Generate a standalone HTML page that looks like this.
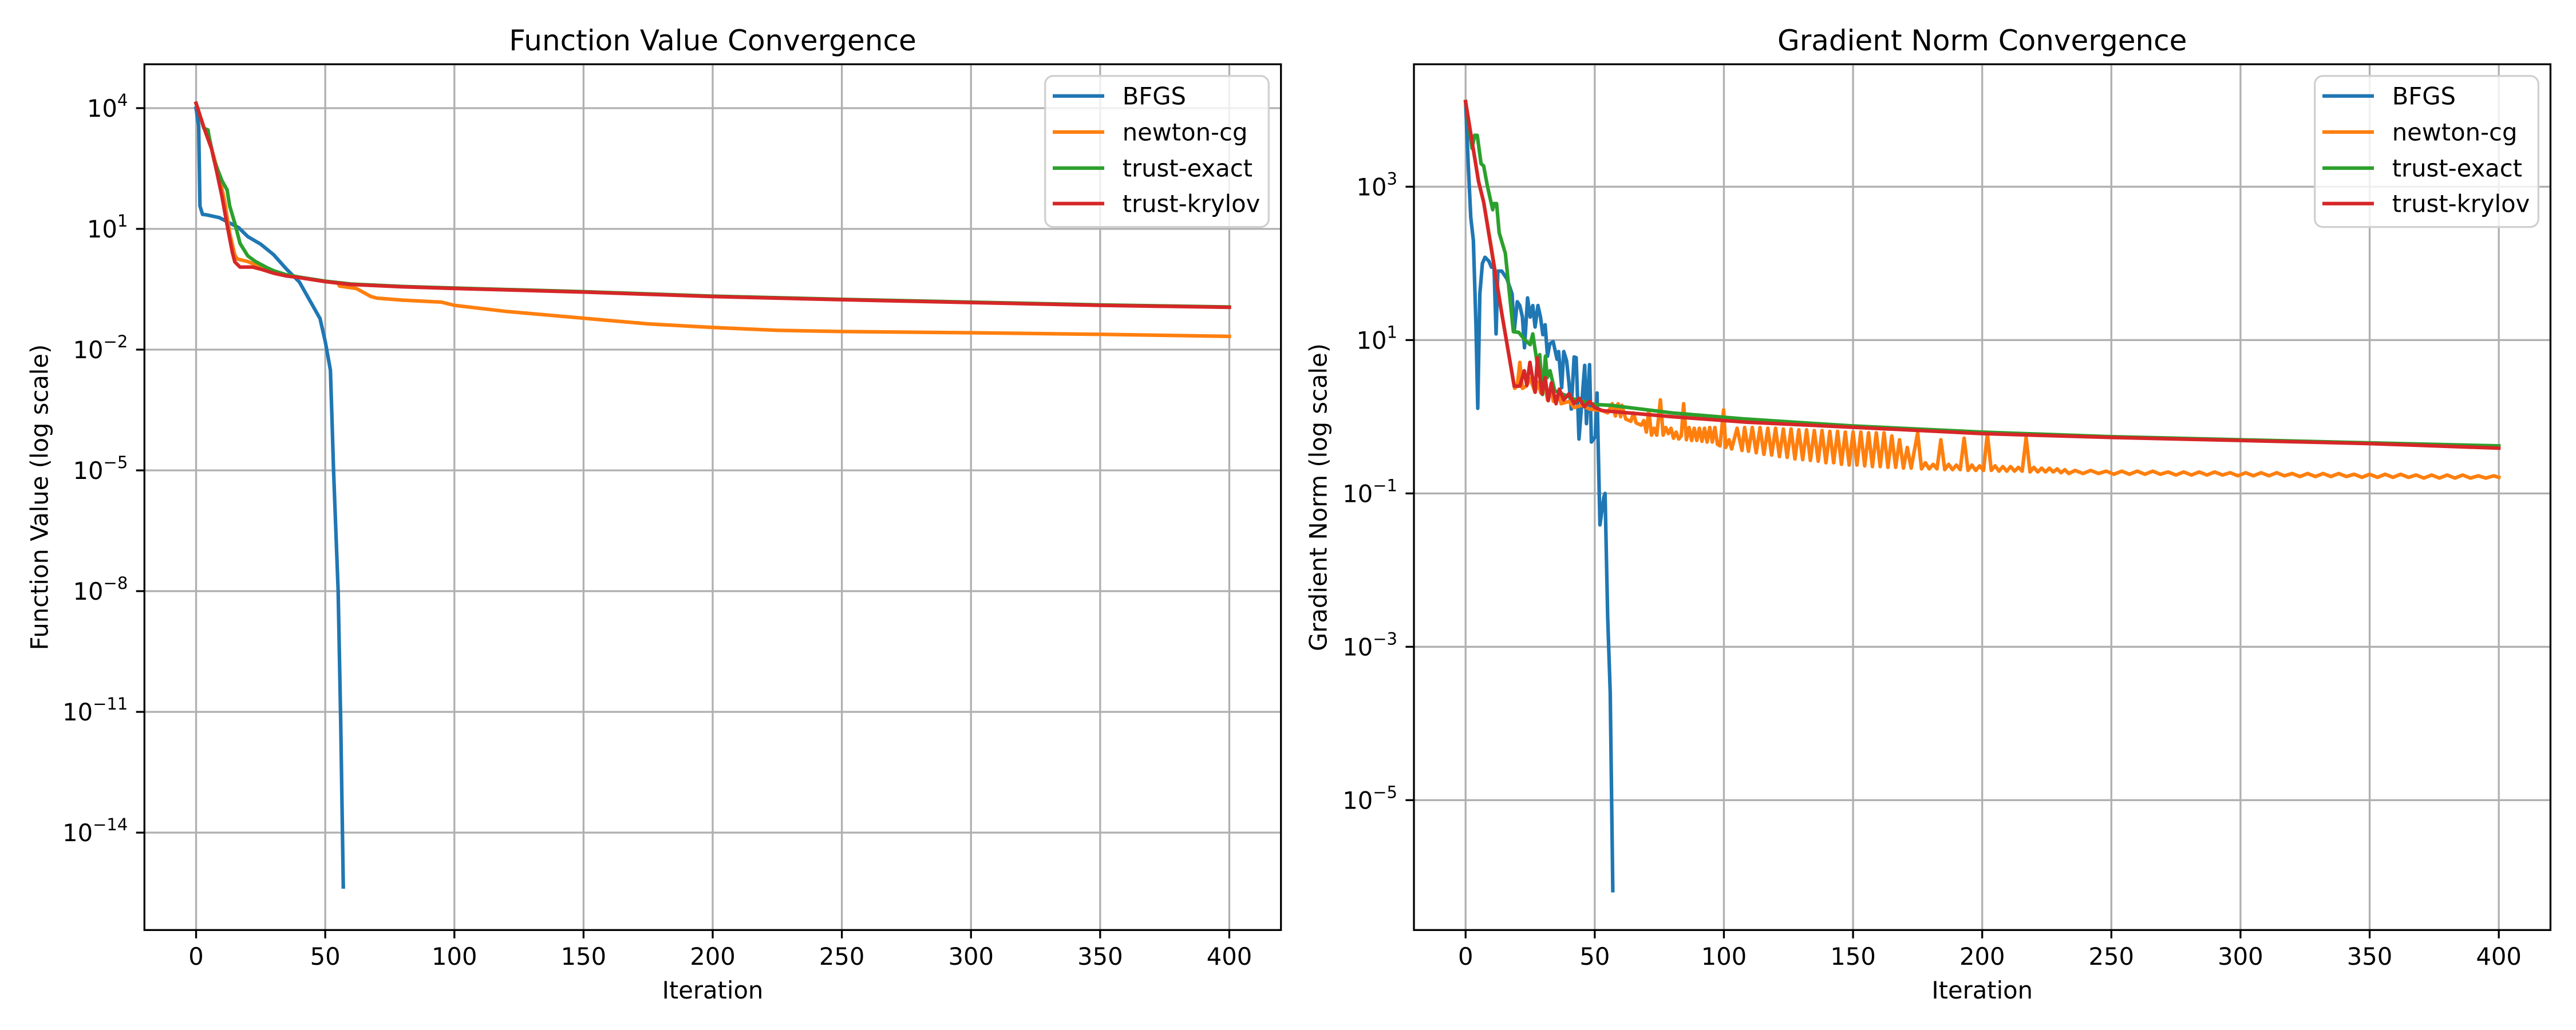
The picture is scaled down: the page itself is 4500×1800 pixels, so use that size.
<!DOCTYPE html>
<html><head><meta charset="utf-8"><title>Convergence</title>
<style>html,body{margin:0;padding:0;background:#fff}svg{display:block}text{font-family:"DejaVu Sans","Liberation Sans",sans-serif;fill:#000}</style>
</head><body>
<svg id="fig" xmlns="http://www.w3.org/2000/svg" width="4500" height="1800" viewBox="0 0 4500 1800">
<rect x="0" y="0" width="4500" height="1800" fill="#fff"/>
</svg>
<script>
// ---- data: function value (log10) ----
const fvBfgsIter=[0,1,1.5,2.5,4,9,16.5,20,25,30,35,40,45,48,50,52,52.6,53.2,55,56,57];
const fvBfgsLog=[4.0,3.55,1.57,1.36,1.35,1.28,1.03,0.81,0.62,0.36,0.0,-0.32,-0.89,-1.23,-1.8,-2.51,-3.7,-4.97,-7.99,-11.26,-15.35];
const fvNcgIter=[0,3,6,9,11,13,15,16,20,25,30,40,50,55,55.5,62,67.7,70,80,95,100,120,150,175,200,225,250,300,350,400];
const fvNcgLog=[4.12,3.52,2.99,2.3,1.7,0.9,0.35,0.25,0.19,0.05,-0.08,-0.2,-0.31,-0.35,-0.42,-0.48,-0.68,-0.72,-0.77,-0.82,-0.9,-1.05,-1.22,-1.36,-1.45,-1.52,-1.55,-1.58,-1.62,-1.67];
const fvExactIter=[0,3,4.6,5,7,10,12,13,15,17,20,23,27,30,35,40,50,60,80,100,150,200,250,300,350,400];
const fvExactLog=[4.12,3.5,3.46,3.3,2.7,2.2,1.97,1.57,1.14,0.64,0.33,0.19,0.05,-0.04,-0.14,-0.2,-0.3,-0.37,-0.43,-0.47,-0.56,-0.67,-0.75,-0.82,-0.89,-0.94];
const fvKrylovIter=[0,3,6,8,10,12,14,15,17,22,25,30,35,40,50,60,80,100,150,200,250,300,350,400];
const fvKrylovLog=[4.12,3.52,2.99,2.42,1.81,1.1,0.43,0.18,0.05,0.05,0.0,-0.1,-0.17,-0.21,-0.31,-0.38,-0.44,-0.48,-0.57,-0.68,-0.76,-0.83,-0.9,-0.95];
// ---- data: gradient norm (log10) ----
const gnBfgsIter=[0,1,2,3,4,4.7,5.5,6.5,7.5,9,10,11,11.8,12.5,14,15,16,17,18,18.8,20,21,22,22.8,24,25,26,26.9,28,29,29.9,30.8,31.7,32.6,33.9,35.4,36,37.2,38,39.1,40,40.9,42,42.8,43.9,46.1,46.8,48,48.7,50.2,50.9,52,53.5,54,55,56,57];
const gnBfgsLog=[4.11,3.3,2.6,2.3,1.2,0.11,1.6,2.0,2.08,2.03,1.95,1.95,1.08,1.9,1.9,1.85,1.8,1.7,1.6,1.11,1.5,1.45,1.3,0.9,1.55,1.3,1.45,1.17,1.45,1.3,1.07,1.2,0.79,0.95,0.98,0.75,0.85,0.38,0.85,0.73,0.45,0.1,0.78,0.77,-0.29,0.67,-0.09,0.68,-0.33,-0.26,0.31,-1.41,-1.05,-1.0,-2.6,-3.6,-6.18];
const gnNcgIter=[0,5,7,10,14,19,20,21,22,23.5,25,26.9,28,29.1,30.2,31.7,33,34,36,37,40,42,45,48,53,55,56.8,58,59,60,60.5,62,64,65,66,68,69,70,70.9,72,73,74,75.4,76.5,77.5,78.5,79.5,80.5,81.5,82.5,83.5,84.4,85.5,86.5,87.5,88.5,89.5,90.5,91.5,92.5,93.5,94.5,95.5,96.5,97.5,98.5,99.9,100.7,102,103,105.1,107,108,109.5,111,112.5,114,115.5,117,118.5,120,121.5,123,124.5,126,127.5,129,130.5,132,133.5,135,136.5,138,139.5,141,142.5,144,145.5,147,148.5,150,151.5,153,154.5,156,157.5,159,160.5,162,163.5,165,166.5,168,169.5,171,172.5,175,176.5,178,179.5,181,182.5,184,185.5,187,188.5,190,191.5,193,194.5,196,197.5,199,200.5,202,203.5,205,206.5,208,209.5,211,212.5,214,215.5,217,218.5,220,221.5,223,224.5,226,227.5,229,230.5,232,233.5,236,239,242,245,248,251,254,257,260,263,266,269,272,275,278,281,284,287,290,293,296,299,302,305,308,311,314,317,320,323,326,329,332,335,338,341,344,347,350,353,356,359,362,365,368,371,374,377,380,383,386,389,392,395,398,400];
const gnNcgLog=[4.11,3.07,2.8,2.2,1.35,0.37,0.4,0.71,0.37,0.4,0.5,0.32,0.45,0.31,0.55,0.22,0.35,0.2,0.3,0.17,0.2,0.12,0.15,0.1,0.08,0.05,0.17,0.01,0.17,0.0,0.15,-0.03,-0.06,0.05,-0.08,-0.11,-0.05,-0.2,0.08,-0.24,-0.15,-0.24,0.22,-0.24,-0.14,-0.22,-0.15,-0.28,-0.2,-0.29,-0.25,0.17,-0.3,-0.14,-0.31,-0.15,-0.31,-0.15,-0.32,-0.15,-0.33,-0.14,-0.33,-0.14,-0.36,-0.38,0.09,-0.4,-0.3,-0.42,-0.15,-0.44,-0.14,-0.45,-0.14,-0.47,-0.14,-0.49,-0.15,-0.5,-0.15,-0.52,-0.16,-0.53,-0.16,-0.55,-0.17,-0.56,-0.17,-0.57,-0.18,-0.58,-0.18,-0.6,-0.19,-0.6,-0.19,-0.62,-0.2,-0.63,-0.2,-0.63,-0.2,-0.64,-0.21,-0.65,-0.21,-0.65,-0.21,-0.66,-0.25,-0.66,-0.3,-0.67,-0.4,-0.67,-0.21,-0.68,-0.6,-0.68,-0.62,-0.68,-0.3,-0.69,-0.62,-0.69,-0.63,-0.69,-0.28,-0.7,-0.63,-0.7,-0.64,-0.7,-0.22,-0.7,-0.64,-0.71,-0.65,-0.71,-0.65,-0.71,-0.66,-0.71,-0.27,-0.72,-0.66,-0.72,-0.67,-0.72,-0.67,-0.72,-0.68,-0.73,-0.69,-0.74,-0.70,-0.74,-0.70,-0.74,-0.71,-0.75,-0.71,-0.75,-0.71,-0.75,-0.71,-0.75,-0.72,-0.76,-0.72,-0.76,-0.72,-0.76,-0.72,-0.76,-0.73,-0.77,-0.73,-0.77,-0.73,-0.77,-0.73,-0.77,-0.74,-0.78,-0.74,-0.78,-0.74,-0.78,-0.74,-0.78,-0.75,-0.79,-0.75,-0.79,-0.75,-0.79,-0.75,-0.79,-0.76,-0.8,-0.76,-0.8,-0.76,-0.8,-0.76,-0.8,-0.77,-0.80,-0.77,-0.79];
const gnExactIter=[0,2.5,3.5,4.5,6,7,8.5,10.5,11,12,13,15.4,18.5,20.6,23,25,26,27.8,28.7,29.8,30.9,31.6,32.7,34.5,42,50,56,80,108.5,150,200,250,300,350,400];
const gnExactLog=[4.11,3.5,3.67,3.67,3.3,3.27,3.0,2.7,2.78,2.78,2.4,2.13,1.11,1.1,1.0,0.94,1.08,0.68,0.81,0.29,0.79,0.51,0.6,0.34,0.23,0.16,0.15,0.05,-0.03,-0.12,-0.2,-0.26,-0.3,-0.34,-0.38];
const gnKrylovIter=[0,5,7,14,18.8,21,22.7,23.7,24.9,26.9,27.8,29.6,30.8,32,33.2,35,36.3,38,40,42,44,46,48,50,53,80,108.5,164,200,250,300,350,400];
const gnKrylovLog=[4.11,3.07,2.8,1.35,0.4,0.4,0.6,0.41,0.71,0.32,0.77,0.3,0.51,0.21,0.44,0.17,0.36,0.22,0.3,0.17,0.24,0.13,0.2,0.12,0.08,0.0,-0.07,-0.16,-0.22,-0.27,-0.31,-0.35,-0.41];
// ---- ticks ----
const xTicks=[0,50,100,150,200,250,300,350,400];
const fvYTicks=[4,1,-2,-5,-8,-11,-14];
const gnYTicks=[3,1,-1,-3,-5];
const seriesNames=["BFGS","newton-cg","trust-exact","trust-krylov"];
const seriesColors=["#1f77b4","#ff7f0e","#2ca02c","#d62728"];

const NS="http://www.w3.org/2000/svg";
const svg=document.getElementById('fig');
function mk(tag,attrs,parent){const e=document.createElementNS(NS,tag);for(const k in attrs)e.setAttribute(k,attrs[k]);(parent||svg).appendChild(e);return e;}

function drawAxes(cfg){
  const g=mk('g',{});
  
  
  const L=cfg.left,R=cfg.right,T=112.3,B=1625.3;
  const sx=i=>L+(i-(-20))/(440)*(R-L);
  const sy=lg=>T+(cfg.ytop-lg)/(cfg.ytop-cfg.ybot)*(B-T);
  const clipId=cfg.name+'-clip';
  const cp=mk('clipPath',{id:clipId},g);mk('rect',{x:L,y:T,width:R-L,height:B-T},cp);
  for(const t of xTicks){const l=mk('line',{x1:sx(t),x2:sx(t),y1:T,y2:B,stroke:'#b0b0b0','stroke-width':3.3},g);
    
    }
  for(const t of cfg.yticks){const l=mk('line',{x1:L,x2:R,y1:sy(t),y2:sy(t),stroke:'#b0b0b0','stroke-width':3.3},g);
    
    }
  const cg=mk('g',{'clip-path':'url(#'+clipId+')'},g);
  cfg.series.forEach((s,k)=>{
    const n=Math.min(s.it.length,s.lg.length);
    let d='';for(let j=0;j<n;j++){d+=(j?'L':'M')+sx(s.it[j]).toFixed(1)+','+sy(s.lg[j]).toFixed(1);}
    const p=mk('path',{d:d,fill:'none',stroke:seriesColors[k],'stroke-width':6.25,'stroke-linejoin':'round','stroke-linecap':'square'},cg);
    
    
  });
  const fr=mk('rect',{x:L,y:T,width:R-L,height:B-T,fill:'none',stroke:'#000','stroke-width':3.3,'stroke-linejoin':'miter'},g);
  
  
  for(const t of xTicks){mk('line',{x1:sx(t),x2:sx(t),y1:B,y2:B+14.6,stroke:'#000','stroke-width':3.3},g);
    const tx=mk('text',{x:sx(t),y:1686,'font-size':41.67,'text-anchor':'middle'},g);tx.textContent=String(t);
    
    }
  for(const t of cfg.yticks){const y=sy(t);mk('line',{x1:L-14.6,x2:L,y1:y,y2:y,stroke:'#000','stroke-width':3.3},g);
    const tx=mk('text',{x:L-29,y:y+15,'font-size':41.67,'text-anchor':'end'},g);
    const a=mk('tspan',{},tx);a.textContent='10';
    const b=mk('tspan',{dy:-19,'font-size':29}, tx);b.textContent=(t<0?'\u2212'+(-t):String(t));
    
    }
  const cx=(L+R)/2;
  const ti=mk('text',{x:cx,y:88,'font-size':50,'text-anchor':'middle'},g);ti.textContent=cfg.title;
  
  
  const xl=mk('text',{x:cx,y:1745,'font-size':41.67,'text-anchor':'middle'},g);xl.textContent='Iteration';
  
  
  const yl=mk('text',{x:0,y:0,'font-size':41.67,'text-anchor':'middle','dominant-baseline':'central',transform:'translate('+cfg.ylabelX+',869) rotate(-90)'},g);yl.textContent=cfg.ylabel;
  
  
  const lg=mk('g',{},g);
  
  
  mk('rect',{x:cfg.legX,y:132.7,width:390.6,height:264,rx:14,ry:14,fill:'rgba(255,255,255,0.8)',stroke:'#d0d0d0','stroke-width':3.3},lg);
  seriesNames.forEach((n,k)=>{
    const yy=[167.7,230.7,293.7,355.7][k];
    const e=mk('g',{},lg);
    
    
    mk('line',{x1:cfg.legX+13.3,x2:cfg.legX+103.3,y1:yy,y2:yy,stroke:seriesColors[k],'stroke-width':6.25},e);
    const t=mk('text',{x:cfg.legX+135,y:yy+15,'font-size':41.67},e);t.textContent=n;
  });
}

drawAxes({name:'function-value-chart',left:252.3,right:2237.7,ytop:5.09,ybot:-16.42,yticks:fvYTicks,
  title:'Function Value Convergence',ylabel:'Function Value (log scale)',ylabelX:69,legX:1825.7,
  series:[{it:fvBfgsIter,lg:fvBfgsLog},{it:fvNcgIter,lg:fvNcgLog},{it:fvExactIter,lg:fvExactLog},{it:fvKrylovIter,lg:fvKrylovLog}]});
drawAxes({name:'gradient-norm-chart',left:2470,right:4455.4,ytop:4.597,ybot:-6.694,yticks:gnYTicks,
  title:'Gradient Norm Convergence',ylabel:'Gradient Norm (log scale)',ylabelX:2303,legX:4043.7,
  series:[{it:gnBfgsIter,lg:gnBfgsLog},{it:gnNcgIter,lg:gnNcgLog},{it:gnExactIter,lg:gnExactLog},{it:gnKrylovIter,lg:gnKrylovLog}]});
</script>
</body></html>
